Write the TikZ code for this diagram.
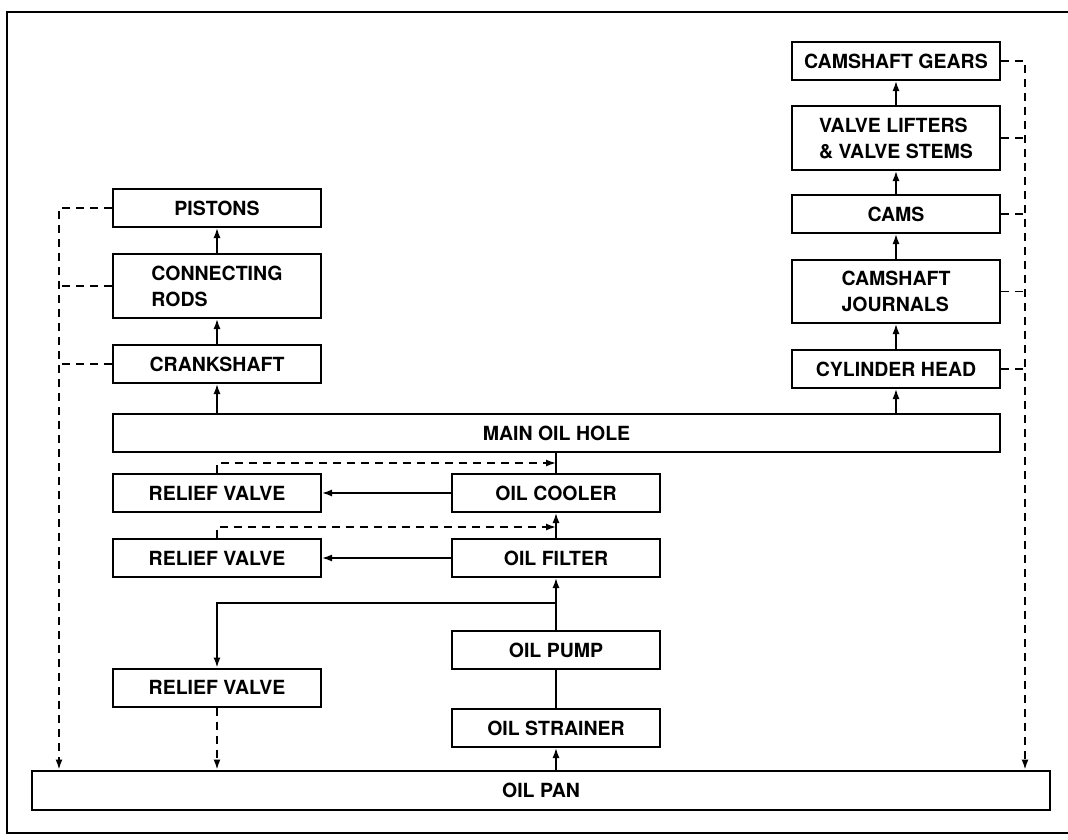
\documentclass[tikz,border=0pt]{standalone}
\usepackage{fontspec}
\setmainfont{TeX Gyre Heros}
\usetikzlibrary{arrows.meta}
\begin{document}
\begin{tikzpicture}[x=1pt,y=-1pt,
  box/.style={draw, line width=2pt, inner sep=0pt, minimum width=208pt, minimum height=38pt,
    font=\bfseries\fontsize{19.5}{26}\selectfont, align=left},
  flow/.style={line width=1.5pt, -{Latex[length=10pt,width=7pt]}},
  ret/.style={flow, dash pattern=on 8pt off 6pt},
  dline/.style={line width=1.5pt, dash pattern=on 8pt off 6pt},
  plain/.style={line width=1.5pt}]
\useasboundingbox (0,0) rectangle (1068,839);
\draw[line width=2.5pt] (1068,12) -- (7,12) -- (7,833) -- (1068,833);

% left column
\node[box] (pis) at (217,208) {PISTONS};
\node[box, minimum height=64pt] (cr) at (217,286) {CONNECTING\\RODS};
\node[box] (crank) at (217,364) {CRANKSHAFT};
% right column
\node[box] (cg) at (896,61) {CAMSHAFT GEARS};
\node[box, minimum height=64pt] (vl) at (896,138) {VALVE LIFTERS\\\& VALVE STEMS};
\node[box] (cams) at (896,214) {CAMS};
\node[box, minimum height=63pt] (cj) at (896,291.5) {CAMSHAFT\\JOURNALS};
\node[box] (ch) at (896,369) {CYLINDER HEAD};
% main oil hole
\node[box, minimum width=887pt] (moh) at (556.5,433) {MAIN OIL HOLE};
% middle
\node[box] (rv1) at (217,493) {RELIEF VALVE};
\node[box] (cool) at (556,493) {OIL COOLER};
\node[box] (rv2) at (217,558) {RELIEF VALVE};
\node[box] (filt) at (556,558) {OIL FILTER};
\node[box] (pump) at (556,650) {OIL PUMP};
\node[box] (rv3) at (217,687.5) {RELIEF VALVE};
\node[box] (str) at (556,728) {OIL STRAINER};
\node[box, minimum width=1018pt, minimum height=39pt] (pan) at (541,790) {OIL PAN};

\coordinate (lx) at (59,0);
\coordinate (rx) at (1025,0);
\coordinate (j) at (556,603);
\coordinate (d1) at (556,463);
\coordinate (d2) at (556,527);

% up flows
\draw[flow] (moh.north -| crank.south) -- (crank.south);
\draw[flow] (crank.north) -- (cr.south);
\draw[flow] (cr.north) -- (pis.south);
\draw[flow] (moh.north -| ch.south) -- (ch.south);
\draw[flow] (ch.north) -- (cj.south);
\draw[flow] (cj.north) -- (cams.south);
\draw[flow] (cams.north) -- (vl.south);
\draw[flow] (vl.north) -- (cg.south);

\draw[flow] (pan.north -| str.south) -- (str.south);
\draw[plain] (str.north) -- (pump.south);
\draw[flow] (pump.north) -- (filt.south);
\draw[flow] (filt.north) -- (cool.south);
\draw[plain] (cool.north) -- (moh.south -| cool.north);
\draw[flow] (j) -| (rv3.north);
\draw[flow] (cool.west) -- (rv1.east);
\draw[flow] (filt.west) -- (rv2.east);

% returns
\draw[ret] (rv1.north) |- (d1);
\draw[ret] (rv2.north) |- (d2);
\draw[ret] (rv3.south) -- (pan.north -| rv3.south);

\draw[ret] (pis.west) -- (pis.west -| lx) -- (pan.north -| lx);
\draw[dline] (cr.west) -- (cr.west -| lx);
\draw[dline] (crank.west) -- (crank.west -| lx);

\draw[ret] (cg.east) -- (cg.east -| rx) -- (pan.north -| rx);
\draw[dline] (vl.east) -- (vl.east -| rx);
\draw[dline] (cams.east) -- (cams.east -| rx);
\draw[dline] (cj.east) -- (cj.east -| rx);
\draw[dline] (ch.east) -- (ch.east -| rx);
\end{tikzpicture}
\end{document}
